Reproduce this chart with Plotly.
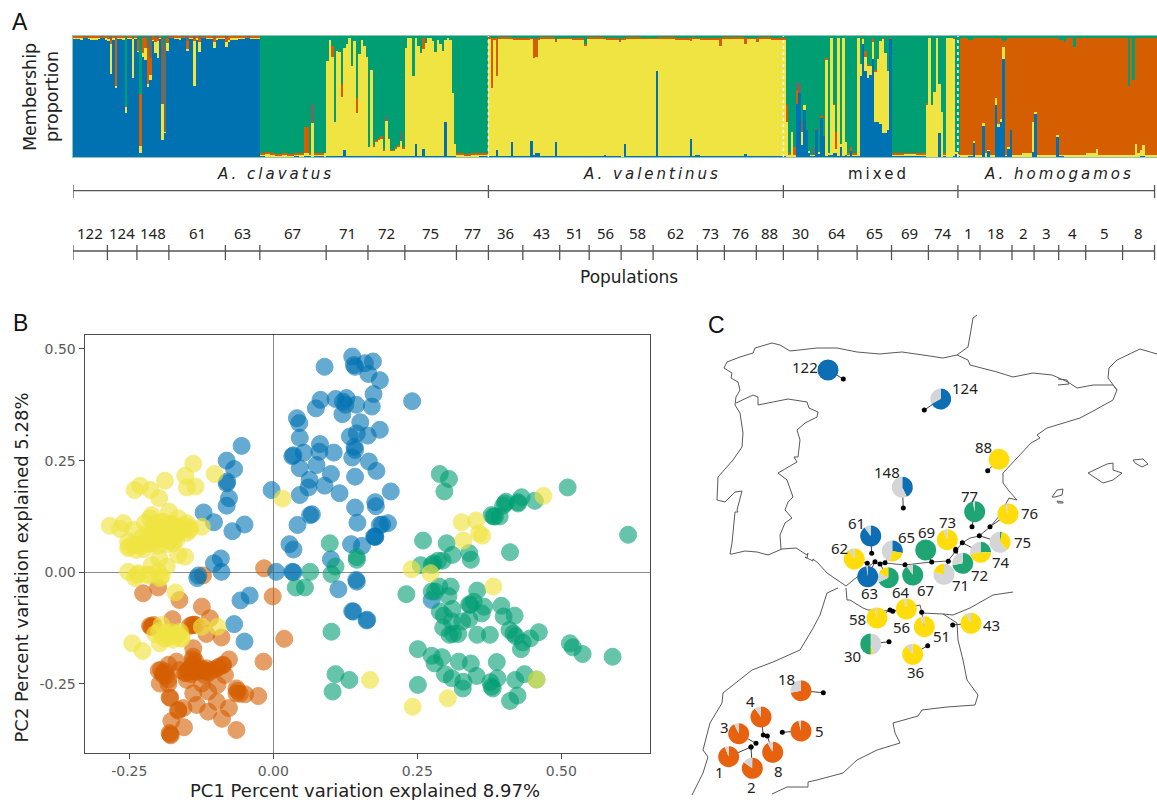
import plotly.graph_objects as go

W, H = 1157, 800
C_BLUE, C_YEL, C_ORA, C_GRY, C_GRN = "#0072B2", "#F0E442", "#D55E00", "#6f6a5e", "#009E73"
FONT = "DejaVu Sans"

# ---------- Panel A: admixture runs (count, blue top, yellow top, orange top, grey top); green fills to 100
n_a = (98, 99, 100, 100)
n_b = (97, 98, 100, 100)
n_c = (98.5, 99, 99.5, 100)
n_d = (96, 98, 99.5, 100)
clavatus_blue_runs = [
    (3, *n_a), (1, *n_b), (2, *n_c), (1, *n_a), (3, *n_b), (1, *n_a), (2, *n_c), (1, *n_b), (1, *n_d),
    (1, 69, 93, 97, 100), (1, *n_b), (1, 57, 59, 97, 100), (2, *n_a), (1, *n_b), (1, 36, 41.5, 42, 42), (2, *n_a),
    (1, 65, 98, 99, 99), (1, *n_a), (1, 87, 88, 97, 99), (1, 3, 9, 52, 52), (1, 83, 86, 99, 100), (1, 80, 90, 99, 100),
    (1, 58, 60, 90, 95), (1, 64, 68, 82, 100), (1, 96, 97, 100, 100), (1, 86, 95, 99, 100), (1, 82, 96, 99, 100),
    (1, *n_a), (1, 14, 44, 44, 98), (1, 20, 21, 21, 92), (1, 88, 94, 98, 100), (2, *n_c), (2, *n_a), (1, *n_b), (2, *n_c),
    (1, 88, 89, 96, 100), (2, *n_a), (1, 59, 96, 98, 100), (1, *n_b), (1, 87, 95, 99, 100), (2, *n_c), (3, *n_a),
    (1, 90, 95, 98, 100), (1, *n_b), (3, *n_a), (1, 91, 95, 99, 100), (1, 95, 97, 100, 100),
    (3, *n_b), (3, *n_a), (2, *n_c), (4, *n_a),
]
g_a = (0.5, 2, 3, 3)
g_b = (0, 1.5, 2.5, 2.5)
g_c = (1, 2, 3, 3)
g_d = (0, 3, 4, 4)
clavatus_green_runs = [
    (2, *g_c), (2, *g_d), (2, *g_a), (3, *g_b), (2, *g_a), (3, *g_b), (2, *g_c), (2, *g_a),
    (2, 1, 3, 25, 25), (1, *g_c), (1, 0, 28, 28, 44), (4, *g_c), (1, 0, 3, 3, 3),
    (1, 1, 79, 79, 79), (1, 1, 97, 97, 97), (1, 1, 83, 92, 92), (1, 1, 29, 29, 29), (1, 1, 88, 88, 88), (1, 1, 87, 87, 87),
    (1, 1, 50, 60, 60), (1, 5.5, 90, 90, 90), (1, 1, 93, 93, 93), (1, 1, 98, 98, 98), (1, 1, 75, 75, 75), (1, 1, 96, 96, 96),
    (1, 1, 36, 49, 49), (1, 1, 85, 85, 85), (1, 1, 97, 97, 97), (1, 1, 92, 92, 92), (1, 1, 83, 83, 83),
    (1, 1, 8, 8, 8), (1, 1, 72, 72, 72), (1, 1, 8, 10, 10), (1, 1, 12, 14, 14), (1, 1, 14, 16, 16), (1, 1, 15, 17, 17),
    (1, 1, 5, 7, 7), (1, 1, 30, 30, 33), (1, 1, 15, 16, 16), (1, 1, 5, 6, 6), (1, 1, 5, 6, 6), (1, 1, 7, 8, 8),
    (1, 1, 9, 10, 10), (1, 1, 13, 13, 21), (1, 1, 7, 8, 8),
    (1, 1, 90, 90, 90), (1, 1, 98, 98, 98), (1, 1, 98, 98, 98), (1, 1, 67, 67, 67), (1, 11, 98, 98, 98), (1, 1, 92, 92, 92),
    (1, 1, 86, 86, 86), (1, 7, 89, 98, 98), (1, 1, 94, 94, 94), (1, 1, 98, 98, 98), (1, 1, 98, 98, 98), (1, 1, 96, 96, 96),
    (1, 1, 87, 87, 87), (1, 1, 97, 97, 97), (1, 1, 93, 93, 93), (1, 1, 88, 88, 88), (1, 29, 97, 97, 97), (1, 1, 98.5, 98.5, 98.5),
    (1, 1, 97, 97, 97), (1, 1, 53, 53, 53),
    (1, 1, 11, 11, 11), (3, *g_a), (3, *g_b), (3, *g_a), (4, *g_c),
]
v_1 = (0.5, 98, 99.5, 99.5)
v_2 = (0.5, 97.5, 99, 99)
v_3 = (1, 98, 99, 99)
v_4 = (0, 97, 98, 98)
valentinus_runs = [
    (1, *v_1), (1, 0.5, 57, 99, 99), (1, *v_2), (1, 5.5, 67, 99, 99), (5, *v_1), (1, 12, 98, 99, 99), (7, *v_2),
    (1, 13, 98, 99, 99), (1, 2, 82, 98, 99), (1, 3, 83, 98, 99), (1, 3, 97, 99, 99), (6, *v_1), (1, 12, 95, 97, 97),
    (6, *v_3), (5, *v_2), (1, 0.5, 92, 93, 93), (7, *v_1), (1, 2, 98, 99, 99), (5, *v_2), (1, 0.5, 95, 97, 97), (1, *v_4),
    (1, 10.5, 97, 98, 98), (6, *v_1), (6, *v_3), (1, 71, 98, 99, 99), (7, *v_1), (6, *v_2), (1, 15, 96, 98, 98), (1, *v_1),
    (1, 2, 98, 99, 99), (1, 2, 98, 99, 99), (8, *v_2), (1, 0.5, 92, 99, 99), (9, *v_1), (1, 2.5, 93, 98, 98), (4, *v_3),
    (1, 0.5, 95, 98, 98), (5, *v_1), (6, *v_2),
]
mixed_runs = [
    (1, 0, 29, 43, 43), (1, 0, 2, 3, 3), (1, 0, 21, 21, 21), (1, 0, 2, 8, 8), (1, 44, 44, 55, 61), (1, 53, 53, 53, 61),
    (1, 10, 21, 21, 30), (1, 39, 43, 43, 43), (1, 22, 22, 22, 22), (1, 3, 5, 5, 5), (1, 1, 2, 2, 2), (1, 1, 2, 2, 8),
    (1, 22, 22, 22, 24), (1, 3, 4, 4, 4), (1, 33, 33, 34, 35), (1, 17, 17, 17, 17), (1, 1, 80, 82, 82), (1, 2, 3, 3, 3),
    (1, 2, 98, 98, 98), (1, 3, 43, 44, 44), (1, 3, 7, 21, 21), (1, 1, 98, 98, 98), (1, 8, 11, 11, 11), (1, 1, 98, 98, 98),
    (1, 2, 12, 12, 12), (1, 1, 2, 3, 3), (1, 5, 5, 8, 8), (2, 1, 2, 3, 3), (1, 1, 98, 98, 98), (1, 67, 77, 77, 77),
    (1, 93, 98, 99, 99), (1, 71, 83, 88, 88), (1, 65, 76, 77, 77), (1, 68, 75, 75, 75), (1, 81, 95, 99, 99), (1, 29, 70, 72, 72),
    (1, 29, 81, 81, 83), (1, 27, 96, 96, 96), (1, 20, 98, 99, 99), (1, 20, 86, 86, 86), (1, 22, 71, 71, 71), (1, 98, 98, 99, 99),
    (5, 1, 2, 3, 3), (5, 0.5, 2.5, 3, 3), (4, 1, 2, 3, 3), (1, 0, 43, 45, 45), (1, 0, 98, 98, 98), (1, 0, 43, 43, 43),
    (1, 0, 54, 54, 54), (1, 0, 98, 98, 98), (1, 20, 60, 60, 60), (1, 0, 37, 37, 37), (1, 1, 2, 3, 3), (3, 0, 98, 98, 98),
    (1, 1, 98, 99, 99), (1, 3, 4, 4, 4), (1, 1, 2, 3, 3),
]
h_1 = (0, 2, 98, 98)
h_2 = (1, 2, 97, 97)
h_3 = (0, 1.5, 99, 99)
h_4 = (0, 3, 98, 98)
homogamos_runs = [
    (3, *h_1), (2, *h_2), (1, 12, 13, 98, 98), (3, *h_3), (1, 26, 28, 98, 98), (1, *h_4), (1, 5, 6, 98, 98), (2, *h_1),
    (1, 43, 49, 98, 98), (1, 25, 27, 98, 98), (1, 29, 31, 98, 98), (1, 81, 91, 96, 96), (1, *h_2), (1, 7, 8, 98, 98),
    (1, 22, 22, 98, 98), (4, *h_1), (4, *h_4), (1, 4, 29, 98, 98), (1, 36, 37, 98, 98), (4, *h_3), (4, *h_1),
    (1, 17, 18, 98, 98), (2, *h_2), (1, 0, 2, 95, 95), (3, *h_1), (1, 0, 2, 91, 91), (4, *h_3), (4, *h_4),
    (1, 0, 7, 98, 98), (6, *h_1), (6, *h_3), (1, 0, 2, 59, 59), (1, *h_1), (1, 0, 2, 64, 64), (1, 0, 11, 98, 98), (1, *h_4),
    (1, 1, 6, 98, 98), (1, 1, 10, 98, 98), (5, *h_1),
]
# individuals per population and their labels
pop_labels = ["122", "124", "148", "61", "63", "67", "71", "72", "75", "77", "36", "43", "51", "56", "58", "62", "73",
              "76", "88", "30", "64", "65", "69", "74", "1", "18", "2", "3", "4", "5", "8"]
pop_sizes = [14, 12, 13, 23, 14, 27, 17, 15, 21, 13, 14, 15, 12, 13, 13, 18, 11, 13, 11, 14, 16, 14, 15, 12,
             9, 13, 9, 10, 11, 15, 13]
species_labels = ["A. clavatus", "A. valentinus", "mixed", "A. homogamos"]
species_sizes = [169, 120, 71, 80]
species_label_px = [275, 652, 878, 1059]

# ---------- Panel B: PCA scores
pc_blue_x = [.089, .137, .142, .159, .173, .165, .140, .185, .174, .171, .082, .074, .108, .127, .121, .125, .144, .120,
             .151, .041, .045, .046, .133, .145, .164, .185, .081, .053, .080, .105, .141, .142, .137, .033, .035, .046,
             .075, .166, .179, .100, .142, .063, .061, .089, .046, .115, .177, -.003, .064, .067, .042, .146, .185, .175,
             .135, .028, .035, .100, .144, -.055, -.081, -.068, -.080, -.081, -.077, -.081, -.121, -.103, -.050, -.071,
             -.091, -.103, -.090, -.132, .241, .199, .178, .142, .177, .137, .163, .005, .033, .035, .145, .113, -.041,
             -.057, .139, .162, -.068, -.050, -.130, .275, .204, .189, .177, .154]
pc_blue_y = [.460, .483, .460, .468, .472, .444, .464, .430, .399, .371, .386, .367, .388, .390, .382, .375, .375, .354,
             .336, .345, .334, .301, .304, .311, .306, .319, .287, .268, .270, .268, .281, .274, .257, .260, .262, .233,
             .240, .248, .227, .220, .214, .207, .190, .194, .173, .177, .157, .184, .128, .130, .106, .111, .106, .080,
             .063, .063, .051, .029, -.017, .283, .250, .231, .203, .199, .166, .149, .134, .112, .107, .092,
             .031, .020, .001, -.013, .383, .110, .148, .145, .079, -.087, -.106, .001, .001, 0, -.021, -.038, -.052,
             -.063, -.088, -.108, -.116, -.155, -.007, -.062, .181, .107, .080, .059]
pc_green_x = [.289, .305, .297, .511, .616, .431, .404, .454, .425, .425, .399, .402, .379, .385, .393, .382, .260, .301,
              .311, .340, .343, .411, .256, .278, .286, .294, .275, .231, .275, .288, .281, .308, .304, .354, .396, .342,
              .348, .340, .366, .362, .289, .296, .311, .400, .419, .340, .328, .310, .295, .312, .306, .321, .354, .376,
              .410, .417, .461, .446, .433, .430, .421, .515, .520, .537, .589, .251, .275, .293, .280, .322, .343, .388,
              .298, .310, .353, .330, .329, .377, .389, .379, .381, .420, .436, .457, .251, .424, .411, .064, .039, .055,
              .101, .108, .145, .101, .108, .132, .103, .098, .145]
pc_green_y = [.220, .209, .181, .190, .084, .168, .158, .160, .157, .154, .149, .154, .128, .125, .125, .125, .071, .065,
              .039, .043, .028, .045, .016, .020, .026, .026, .016, -.049, -.043, -.032, -.043, -.032, -.053, -.041, -.075,
              -.073, -.066, -.072, -.077, -.092, -.088, -.097, -.082, -.099, -.097, -.105, -.110, -.110, -.124, -.138,
              -.140, -.138, -.140, -.140, -.129, -.137, -.134, -.148, -.157, -.172, -.143, -.159, -.168, -.183, -.189,
              -.172, -.187, -.190, -.204, -.200, -.204, -.201, -.228, -.237, -.232, -.245, -.260, -.246, -.237, -.256,
              -.260, -.241, -.228, -.240, -.252, -.276, -.288, .001, -.034, -.034, -.004, .013, .028, -.133, -.228, -.241,
              -.267, .065, .034]
pc_yellow_x = [.327, .352, .357, .363, .330, .240, .273, .382, .469, .457, .303, .242, .168, .016, -.139, -.153, -.102,
               -.135, -.150, -.188, -.231, -.241, -.213, -.198, -.211, -.181, -.214, -.223, -.284, -.260, -.266, -.243,
               -.124, -.165, -.150, -.145, -.191, -.179, -.168, -.156, -.200, -.188, -.211, -.197, -.182, -.171, -.226,
               -.252, -.252, -.234, -.211, -.200, -.174, -.153, -.165, -.198, -.211, -.185, -.252, -.234, -.220, -.200,
               -.197, -.237, -.214, -.240, -.194, -.170, -.194, -.205, -.188, -.197, -.174, -.162, -.159, -.171, -.245,
               -.227, -.124, -.097,
               -.205, -.195, -.185, -.175, -.165, -.155, -.145, -.215, -.205, -.190, -.178, -.165, -.150, -.228, -.216,
               -.204, -.192, -.180, -.168, -.240, -.228, -.215, -.200, -.187, -.250, -.238, -.225,
               -.198, -.186, -.176, -.166, -.190, -.180, -.170, -.160]
pc_yellow_y = [.112, .116, .087, .082, .071, .007, -.002, -.032, .171, -.240, -.282, -.301, -.241, .165, .243, .216, .220,
               .192, .190, .205, .194, .184, .184, .166, .128, .136, .121, .110, .104, .110, .097, .095,
               .102, .121, .110, .095, .113, .106, .102, .095, .095, .095, .080, .076, .080, .080, .065,
               .069, .054, .061, .065, .076, .065, .035, .039, .031, .016, .013, .001, -.002, -.006, .001,
               -.013, -.006, -.006, -.013, -.010, -.045, -.118, -.138, -.148, -.159, -.151, -.133, -.148, -.140, -.159,
               -.176, -.122, -.122,
               .108, .112, .104, .108, .100, .104, .100, .092, .094, .090, .092, .090, .088, .078, .080,
               .074, .076, .072, .074, .062, .060, .064, .060, .062, .058, .050, .052,
               -.132, -.136, -.134, -.138, -.146, -.144, -.142, -.148]
pc_orange_x = [-.016, -.122, -.001, -.226, -.200, -.163, -.124, -.110, -.175, -.214, -.211, -.141, -.135, -.116, -.090,
               .019, -.017, -.139, -.139, -.077, -.168, -.182, -.199, -.188, -.191, -.197, -.182, -.153, -.148, -.139,
               -.142, -.116, -.119, -.098, -.087, -.084, -.124, -.150, -.097, -.139, -.113, -.064, -.064, -.049, -.026,
               -.179, -.133, -.156, -.165, -.098, -.077, -.113, -.089, -.177, -.155, -.179, -.064, -.127, -.162,
               -.150, -.145, -.138, -.130, -.122, -.115, -.105, -.095, -.088, -.143, -.135, -.125, -.112, -.192, -.186,
               -.195, -.182, -.140, -.135, -.142, -.178, -.180, -.165, -.062, -.058, -.212, -.208, -.145, -.138, -.180]
pc_orange_y = [.009, -.007, -.054, -.047, -.034, -.062, -.077, -.103, -.105, -.120, -.122, -.118, -.118, -.138, -.146,
               -.149, -.200, -.170, -.189, -.195, -.200, -.207, -.220, -.222, -.230, -.249, -.249, -.226, -.219, -.204,
               -.222, -.215, -.230, -.215, -.207, -.230, -.249, -.241, -.252, -.271, -.267, -.260, -.271, -.273, -.277,
               -.281, -.297, -.304, -.308, -.290, -.304, -.312, -.328, -.333, -.347, -.363, -.353, -.219, -.219,
               -.225, -.215, -.208, -.222, -.218, -.222, -.218, -.212, -.208, -.228, -.222, -.215, -.225, -.225, -.232,
               -.218, -.240, -.195, -.200, -.212, -.365, -.360, -.310, -.265, -.272, -.122, -.118, -.120, -.117, -.280]
pc_ticks = [-0.25, 0, 0.25, 0.50]
pc_ticktext = ["-0.25", "0.00", "0.25", "0.50"]

# ---------- Panel C: outline of the map (map units)
north_coast_x = [977, 973, 971, 968, 957, 943, 923, 902, 890, 880, 857, 837, 817, 790, 780, 772, 755, 753, 740, 727, 724,
                 732, 731, 738, 740, 736, 735, 740, 743, 742, 733, 718, 717, 725, 735, 742, 737, 738, 735, 733, 732, 730, 732,
                 745, 757, 768, 782, 796, 807, 808, 807, 805]
north_coast_y = [315, 318, 330, 347, 355, 358, 355, 352, 353, 354, 352, 348, 348, 351, 345, 343, 348, 353, 357, 362, 368,
                 373, 378, 382, 390, 397, 405, 413, 433, 447, 460, 477, 500, 502, 492, 491, 510, 512, 512, 530, 543, 554, 554,
                 551, 552, 555, 549, 548, 555, 553, 558, 557]
south_coast_x = [805, 813, 813, 818, 827, 838, 846, 857, 873, 885, 905, 931, 948, 955, 962, 970, 979, 990, 994, 1000, 1009,
                 1017, 1009, 1003, 1003, 1018, 1031, 1040, 1037, 1047, 1080, 1095, 1113, 1117, 1113, 1093, 1077, 1068, 1052,
                 1033, 1013, 997, 980, 970, 968, 957]
south_coast_y = [557, 561, 559, 563, 573, 581, 586, 577, 563, 563, 565, 562, 561, 552, 543, 538, 536, 527, 522, 515, 498,
                 500, 491, 483, 473, 457, 443, 438, 435, 428, 418, 410, 400, 390, 385, 385, 388, 382, 375, 373, 377, 372, 368,
                 365, 360, 355]
border_pt_x = [736, 753, 758, 758, 773, 788, 807, 809, 818, 817, 805, 797, 800, 798, 794, 797, 778, 787, 793, 788, 785, 792,
               785, 780, 781]
border_pt_y = [403, 395, 397, 405, 402, 399, 402, 408, 412, 417, 423, 430, 440, 457, 457, 462, 473, 480, 497, 502, 510, 518,
               523, 535, 549]
pyrenees_east_x = [1117, 1108, 1109, 1117, 1140, 1157]
pyrenees_east_y = [390, 378, 368, 360, 349, 354]
andorra_x = [1058, 1067, 1069, 1058]
andorra_y = [379, 380, 384, 385]
mallorca_x = [1088, 1107, 1113, 1113, 1122, 1113, 1103, 1095, 1088]
mallorca_y = [473, 464, 463, 470, 473, 480, 483, 478, 473]
menorca_x = [1133, 1143, 1148, 1142, 1135, 1133]
menorca_y = [460, 459, 464, 467, 463, 460]
ibiza_x = [1052, 1057, 1063, 1062, 1055, 1052]
ibiza_y = [497, 490, 489, 495, 497, 497]
formentera_x = [1057, 1063, 1063, 1058, 1057]
formentera_y = [501, 502, 503, 503, 501]
morocco_atl_x = [838, 827, 820, 812, 800, 773, 752, 723, 722, 710, 703, 708, 703, 692]
morocco_atl_y = [588, 593, 615, 630, 650, 662, 670, 693, 703, 723, 750, 757, 773, 795]
morocco_med_x = [846, 847, 850, 863, 868, 893, 920, 922, 943, 953, 970, 993, 1013]
morocco_med_y = [588, 600, 600, 608, 610, 611, 605, 613, 614, 615, 608, 595, 592]
morocco_border_x = [943, 957, 958, 963, 967, 978, 975, 947, 922, 918, 893, 895, 900, 893, 877, 857, 843, 817, 808, 808,
                    787, 772]
morocco_border_y = [614, 623, 640, 660, 680, 695, 705, 707, 710, 716, 723, 733, 743, 745, 750, 760, 773, 780, 782, 787,
                    787, 794]

# ---------- Panel C: populations
map_labels = ["122", "124", "88", "148", "77", "76", "75", "74", "73", "72", "71", "69", "67", "65", "64", "63", "62", "61",
              "58", "56", "51", "43", "36", "30", "18", "4", "3", "5", "8", "1", "2"]
pie_x = [828, 940.7, 999, 902.3, 974.7, 1008, 1000, 980.7, 947.3, 962.7, 944, 925.7, 912.7, 892.3, 888.3, 867.7, 854.3, 870.7,
         877, 906.3, 924.3, 971, 912.7, 870.7, 801, 761, 738.7, 801, 772.7, 728.7, 752.3]
pie_y = [370, 399, 459.3, 487.3, 511.7, 514, 542.3, 552.3, 539.7, 563.3, 574.3, 550, 575, 551, 577.7, 576.7, 559, 536,
         618, 609, 626.7, 623.3, 654.3, 644, 690.7, 717, 733.7, 731, 752.3, 756.7, 768.3]
site_x = [843.3, 924.3, 987.7, 903.3, 972, 990, 979.3, 962.3, 955.7, 955.7, 948.3, 931.7, 905, 885, 880, 875, 867.3, 871.7,
          890, 892.7, 921.7, 952.7, 927.7, 889, 823.3, 763.3, 756, 782.3, 767.3, 751, 751]
site_y = [379, 410, 470.7, 508, 526.7, 526.7, 535.7, 542.7, 549.3, 551, 561.3, 562, 564.7, 562.7, 564, 561.7, 563.3, 553.3,
          610, 611.3, 612.3, 625, 645.7, 641.7, 692.7, 735, 743.3, 732.3, 736, 747, 747]
map_label_x = [805, 965, 983.3, 886.7, 969, 1029, 1022.7, 1001, 947.7, 979.3, 960.3, 926.7, 925.7, 906, 901, 869, 839, 856.7,
               857.7, 901.7, 941.7, 991.7, 915, 852.7, 786, 750, 724.3, 819.3, 778.3, 719.3, 751]
map_label_y = [367, 387.7, 446.7, 472.3, 495.7, 512.7, 542.3, 561.7, 521.7, 574.7, 585, 532.3, 590, 537.3, 591.7, 592.7,
               547.7, 522.7, 619, 626.7, 636, 625, 671.7, 655.7, 679, 701, 727.3, 731, 770.7, 771.7, 787.3]
P_BLUE, P_GRN, P_YEL, P_ORA, P_GRY = "#0e6eb3", "#1fa574", "#ffdc0b", "#e8610e", "#d3d5d6"
pie_values = [[100], [67, 33], [100], [43, 57], [97, 3], [96, 4], [3, 35, 62], [25, 47, 28], [94, 6], [72, 28], [78, 22], [100],
              [90, 10], [28, 26, 46], [68, 15, 17], [98, 2], [92, 8], [90, 10],
              [96, 4], [96, 4], [94, 6], [92, 8], [90, 10], [46, 4, 50], [72, 28], [90, 10], [93, 7], [96, 4], [92, 8], [94, 6], [85, 15]]
pie_colors = [[P_BLUE], [P_BLUE, P_GRY], [P_YEL], [P_BLUE, P_GRY], [P_GRN, P_GRY], [P_YEL, P_GRY], [P_GRN, P_YEL, P_GRY],
              [P_GRN, P_YEL, P_GRY], [P_YEL, P_GRY], [P_GRN, P_GRY], [P_GRY, P_YEL], [P_GRN], [P_GRN, P_GRY],
              [P_BLUE, P_YEL, P_GRY], [P_GRN, P_GRY, P_YEL], [P_BLUE, P_GRY], [P_YEL, P_GRY], [P_BLUE, P_GRY],
              [P_YEL, P_GRY], [P_YEL, P_GRY], [P_YEL, P_GRY], [P_YEL, P_GRY], [P_YEL, P_GRY], [P_GRY, P_YEL, P_GRN],
              [P_ORA, P_GRY], [P_ORA, P_GRY], [P_ORA, P_GRY], [P_ORA, P_GRY], [P_ORA, P_GRY], [P_ORA, P_GRY], [P_ORA, P_GRY]]


def X(px):
    return px / W


def Y(py):
    return 1 - py / H


runs = clavatus_blue_runs + clavatus_green_runs + valentinus_runs + mixed_runs + homogamos_runs
blue, yellow, orange, grey, green = [], [], [], [], []
for n, b, y_, o, g in runs:
    for _ in range(n):
        blue.append(b)
        yellow.append(y_ - b)
        orange.append(o - y_)
        grey.append(g - o)
        green.append(100 - g)
N = len(blue)
idx = list(range(N))

fig = go.Figure()
for vals, col in [(blue, C_BLUE), (yellow, C_YEL), (orange, C_ORA), (grey, C_GRY), (green, C_GRN)]:
    fig.add_bar(x=idx, y=vals, width=1, marker=dict(color=col, line=dict(width=0)), xaxis="x", yaxis="y", hoverinfo="skip")


def edges(sizes):
    out = [-0.5]
    for s in sizes:
        out.append(out[-1] + s)
    return out


sp_edges = edges(species_sizes)
pop_edges = edges(pop_sizes)
LINE = "#555555"


def bracket(xs, lvl, half_top, half_bot):
    lx, ly = [xs[0], xs[-1], None], [lvl, lvl, None]
    for v in xs:
        lx += [v, v, None]
        ly += [lvl - half_top, lvl + half_bot, None]
    return lx, ly


for xs, lvl, a_, b_ in [(sp_edges, 190.7, 5.7, 7.3), (pop_edges, 251, 6, 9)]:
    lx, ly = bracket(xs, lvl, a_, b_)
    fig.add_scatter(x=lx, y=ly, mode="lines", line=dict(color=LINE, width=1.3), xaxis="x", yaxis="y4",
                    hoverinfo="skip", cliponaxis=False)

# group separators in the admixture plot
sep = sp_edges[1:-1]
sx, sy = [], []
for v in sep:
    sx += [v, v, None]
    sy += [0, 100, None]
fig.add_scatter(x=sx, y=sy, mode="lines", line=dict(color="white", width=1.5, dash="dot"), xaxis="x", yaxis="y", hoverinfo="skip")

# PCA
for px_, py_, col, op in [(pc_orange_x, pc_orange_y, C_ORA, .6), (pc_blue_x, pc_blue_y, C_BLUE, .6),
                          (pc_green_x, pc_green_y, C_GRN, .6), (pc_yellow_x, pc_yellow_y, C_YEL, .65)]:
    fig.add_scatter(x=px_, y=py_, mode="markers", xaxis="x2", yaxis="y2", hoverinfo="skip",
                    marker=dict(size=17, color=col, opacity=op, line=dict(color=col, width=1)))

# Map
MAPC = "#5a5a5a"
for lx, ly in [(north_coast_x, north_coast_y), (south_coast_x, south_coast_y), (border_pt_x, border_pt_y),
               (pyrenees_east_x, pyrenees_east_y), (andorra_x, andorra_y), (mallorca_x, mallorca_y), (menorca_x, menorca_y),
               (ibiza_x, ibiza_y), (formentera_x, formentera_y), (morocco_atl_x, morocco_atl_y), (morocco_med_x, morocco_med_y),
               (morocco_border_x, morocco_border_y)]:
    fig.add_scatter(x=lx, y=ly, mode="lines", line=dict(color=MAPC, width=1), xaxis="x3", yaxis="y3", hoverinfo="skip")
cx, cy = [], []
for a_, b_, c_, d_ in zip(pie_x, pie_y, site_x, site_y):
    cx += [a_, c_, None]
    cy += [b_, d_, None]
fig.add_scatter(x=cx, y=cy, mode="lines", line=dict(color="#444444", width=1), xaxis="x3", yaxis="y3", hoverinfo="skip")
fig.add_scatter(x=site_x, y=site_y, mode="markers", marker=dict(color="black", size=5), xaxis="x3", yaxis="y3", hoverinfo="skip")

R = 10.5
for px_, py_, vals, cols in zip(pie_x, pie_y, pie_values, pie_colors):
    fig.add_pie(values=vals, sort=False, direction="clockwise", rotation=0, textinfo="none", hoverinfo="skip",
                marker=dict(colors=cols, line=dict(width=0)), showlegend=False,
                domain=dict(x=[X(px_ - R), X(px_ + R)], y=[Y(py_ + R), Y(py_ - R)]))

ann = []


def text(px_, py_, s, size=14, font=FONT, color="#222222", angle=0, spacing=None):
    if spacing:
        s = f'<span style="letter-spacing:{spacing}px">{s}</span>'
    ann.append(dict(x=X(px_), y=Y(py_), xref="paper", yref="paper", text=s, showarrow=False, textangle=angle,
                    xanchor="center", yanchor="middle", font=dict(family=font, size=size, color=color)))


x0_bar, x1_bar = 73.0, 1157.0
to_px = lambda v: x0_bar + (v + 0.5) / N * (x1_bar - x0_bar)
for s, p in zip(species_labels, species_label_px):
    shown = f"<i>{s}</i>" if s.startswith("A.") else s
    text(p, 174, shown, size=15, spacing=3)
for i, s in enumerate(pop_labels):
    mid = to_px((pop_edges[i] + pop_edges[i + 1]) / 2)
    text(mid, 233, s, size=15, font="Noto Sans")
text(629, 277, "Populations", size=17)
text(30, 97, "Membership", size=17.5, angle=-90)
text(52, 97, "proportion", size=17.5, angle=-90)
text(364.5, 790, "PC1 Percent variation explained 8.97%", size=18)
text(21, 567.5, "PC2 Percent variation explained 5.28%", size=18, angle=-90)
text(20, 22, "A", size=23, font="Liberation Sans", color="#111111")
text(20, 323, "B", size=23, font="Liberation Sans", color="#111111")
text(716, 325, "C", size=23, font="Liberation Sans", color="#111111")
for s, a_, b_ in zip(map_labels, map_label_x, map_label_y):
    text(a_, b_, s, size=15, font="Noto Sans", color="#222222")

hidden = dict(visible=False, showgrid=False, zeroline=False, fixedrange=True)
x_lo, x_hi = (84.7 - 273.3) / 576, (650 - 273.3) / 576
y_lo, y_hi = (572.3 - 752.7) / 446.7, (572.3 - 334.7) / 446.7
frame = dict(showline=True, linecolor="#4d4d4d", linewidth=1.3, mirror=True, showgrid=False, zeroline=True,
             zerolinecolor="#8a8a8a", zerolinewidth=1, ticks="outside", ticklen=5, tickcolor="#4d4d4d", tickwidth=1.3,
             tickvals=pc_ticks, ticktext=pc_ticktext, tickfont=dict(family=FONT, size=14, color="#5a5a5a"))
fig.update_layout(
    width=W, height=H, margin=dict(l=0, r=0, t=0, b=0, pad=0), autosize=False, showlegend=False,
    paper_bgcolor="white", plot_bgcolor="rgba(0,0,0,0)", barmode="stack", bargap=0, annotations=ann, hovermode=False,
    xaxis=dict(domain=[X(73), 1], range=[-0.5, N - 0.5], showline=True, mirror=True, linecolor="#8fc4bb", linewidth=1,
               showticklabels=False, ticks="", showgrid=False, zeroline=False, fixedrange=True, anchor="y"),
    yaxis=dict(domain=[Y(157), Y(36)], range=[0, 100], showline=True, mirror=True, linecolor="#8fc4bb", linewidth=1,
               showticklabels=False, ticks="", showgrid=False, zeroline=False, fixedrange=True, anchor="x"),
    yaxis4=dict(domain=[Y(265), Y(180)], range=[265, 180], anchor="x", **hidden),
    xaxis2=dict(domain=[X(84.7), X(650)], range=[x_lo, x_hi], anchor="y2", **frame),
    yaxis2=dict(domain=[Y(752.7), Y(334.7)], range=[y_lo, y_hi], anchor="x2", **frame),
    xaxis3=dict(domain=[0, 1], range=[0, W], anchor="y3", **hidden),
    yaxis3=dict(domain=[0, 1], range=[H, 0], anchor="x3", **hidden),
)
fig.write_html("out.html", post_script="document.body.style.margin='0';", config=dict(displayModeBar=False))
